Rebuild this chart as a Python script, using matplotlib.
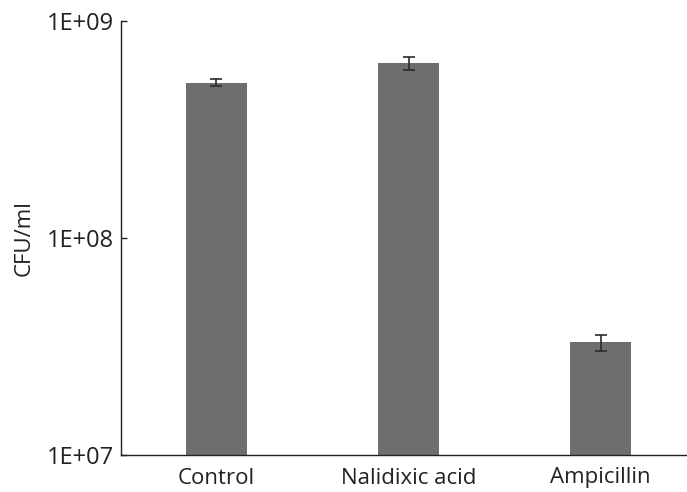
import matplotlib.pyplot as plt
from matplotlib.ticker import FixedLocator, NullLocator

# ---- data ----
groups = ["Control", "Nalidixic acid", "Ampicillin"]
cfu_mean = [5.2e8, 6.4e8, 3.3e7]
cfu_err = [1.8e7, 4.3e7, 2.7e6]
y_ticks = [1e7, 1e8, 1e9]
y_tick_labels = ["1E+07", "1E+08", "1E+09"]

plt.rcParams["font.family"] = ["Open Sans", "DejaVu Sans"]

fig = plt.figure(figsize=(6.87, 4.92), dpi=100)
ax = fig.add_axes([121 / 687, 1 - 455 / 492, 1 - 121 / 687, (455 - 21) / 492])

x = range(len(groups))
ax.bar(x, cfu_mean, width=0.318, color="#6d6e70", zorder=2)
ax.errorbar(x, cfu_mean, yerr=cfu_err, fmt="none", ecolor="#2b2b2b",
            elinewidth=1.2, capsize=4, capthick=1.2, zorder=3)

ax.set_yscale("log")
ax.set_ylim(1e7, 1e9)
ax.set_xlim(-0.497, 2.45)
ax.yaxis.set_major_locator(FixedLocator(y_ticks))
ax.yaxis.set_minor_locator(NullLocator())
ax.set_yticklabels(y_tick_labels)
ax.set_xticks(list(x))
ax.set_xticklabels(groups)

ax.tick_params(axis="y", direction="in", length=4, width=1, labelsize=17,
               pad=5, colors="#222222")
ax.tick_params(axis="x", length=0, labelsize=16, pad=9, colors="#222222")
ax.set_ylabel("CFU/ml", fontsize=16, color="#222222", labelpad=9)

for side in ["top", "right"]:
    ax.spines[side].set_visible(False)
for side in ["left", "bottom"]:
    ax.spines[side].set_linewidth(1.0)
    ax.spines[side].set_color("#222222")

fig.savefig("out.png", dpi=100)
